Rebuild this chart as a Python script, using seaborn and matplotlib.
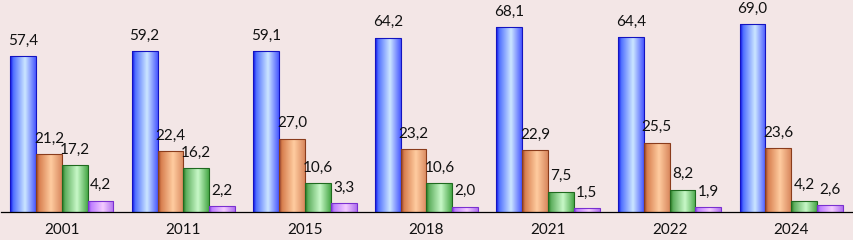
import numpy as np
import pandas as pd
import matplotlib
matplotlib.use("Agg")
import matplotlib.pyplot as plt
import seaborn as sns
from matplotlib.colors import to_rgb

years = ['2001', '2011', '2015', '2018', '2021', '2022', '2024']
series = ['s1', 's2', 's3', 's4']
s1 = [57.4, 59.2, 59.1, 64.2, 68.1, 64.4, 69.0]
s2 = [21.2, 22.4, 27.0, 23.2, 22.9, 25.5, 23.6]
s3 = [17.2, 16.2, 10.6, 10.6, 7.5, 8.2, 4.2]
s4 = [4.2, 2.2, 3.3, 2.0, 1.5, 1.9, 2.6]

df = pd.DataFrame({
    'year': years * 4,
    'series': [s for s in series for _ in years],
    'value': s1 + s2 + s3 + s4,
})

# gradient stops (left edge, near-left, highlight, right edge) and edge colour
grads = [
    (['#0c0ce8', '#5070ff', '#cce6ff', '#4a5aff'], '#1414c0'),
    (['#9a4420', '#d88050', '#ffcca0', '#d9885e'], '#8a3c1c'),
    (['#1f7a1f', '#60b060', '#c8f8c8', '#48a848'], '#1f6a1f'),
    (['#8a3ae8', '#c080ff', '#f4ccff', '#b070f0'], '#7a30d0'),
]
bg = '#f3e6e6'

sns.set_style('white')
plt.rcParams['font.family'] = ['Lato', 'DejaVu Sans']

fig = plt.figure(figsize=(8.54, 2.4), dpi=100, facecolor=bg)
ax = fig.add_axes([1 / 854, 28 / 240, 851 / 854, 212 / 240])
ax.set_facecolor(bg)

sns.barplot(data=df, x='year', y='value', hue='series', hue_order=series,
            order=years, width=0.85, dodge=True, legend=False, ax=ax)

pos = np.array([0.0, 0.12, 0.58, 1.0])
xs = np.linspace(0, 1, 64)
for cont, (stops, ec) in zip(ax.containers, grads):
    rgb = np.array([to_rgb(c) for c in stops])
    row = np.stack([np.interp(xs, pos, rgb[:, k]) for k in range(3)], axis=-1)
    img = row[np.newaxis, :, :]
    for p in cont.patches:
        x0, y0 = p.get_x(), p.get_y()
        w, h = p.get_width(), p.get_height()
        p.set_facecolor('none')
        p.set_edgecolor(ec)
        p.set_linewidth(0.8)
        p.set_zorder(3)
        im = ax.imshow(img, extent=[x0, x0 + w, y0, y0 + h], aspect='auto',
                       interpolation='bilinear', zorder=2)
        im.set_clip_path(p)
    ax.bar_label(cont, labels=[f'{v:.1f}'.replace('.', ',') for v in cont.datavalues],
                 padding=6, fontsize=11, color='#111111')

ax.set_xlim(-0.5, len(years) - 0.5)
ax.set_ylim(0, 78)
ax.set_xlabel('')
ax.set_ylabel('')
ax.set_yticks([])
ax.set_xticks(np.arange(-0.5, len(years), 1.0))
ax.set_xticklabels([])
ax.set_xticks(np.arange(len(years)), minor=True)
ax.set_xticklabels(years, minor=True, fontsize=11, color='#111111')
ax.tick_params(axis='x', which='major', direction='out', length=4, width=0.8, color='black')
ax.tick_params(axis='x', which='minor', length=0, pad=8)
for side in ['top', 'right', 'left']:
    ax.spines[side].set_visible(False)
ax.spines['bottom'].set_color('black')
ax.spines['bottom'].set_linewidth(0.9)

fig.savefig('out.png', dpi=100, facecolor=bg)
